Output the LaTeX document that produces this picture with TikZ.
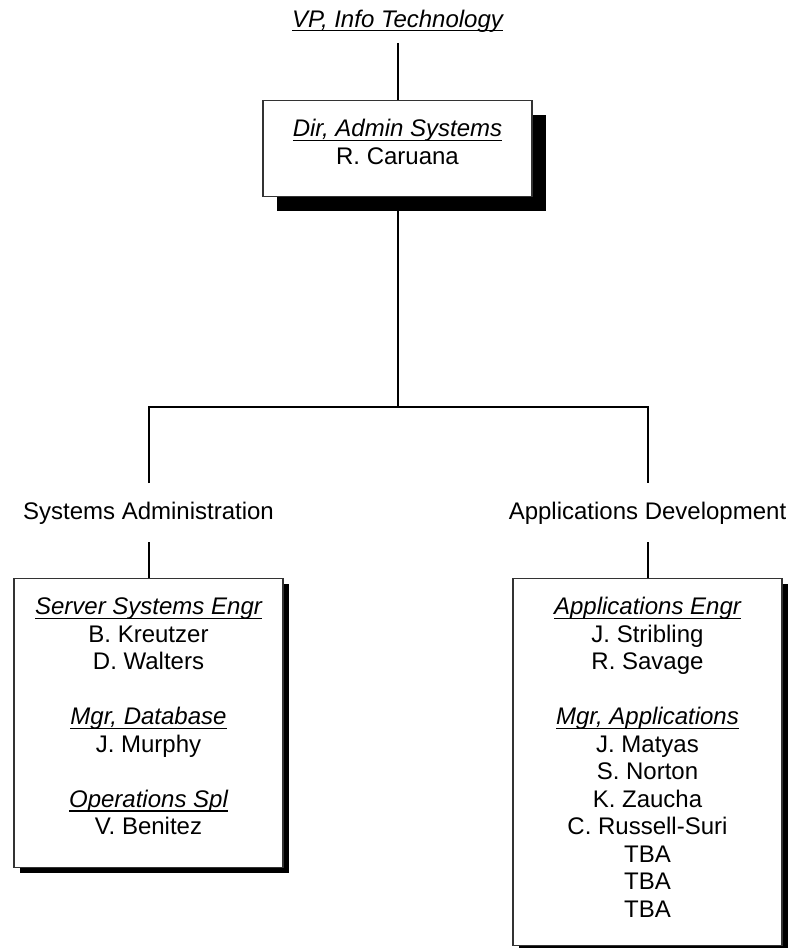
\documentclass[tikz,border=0pt]{standalone}
\usepackage{fontspec}
\setmainfont{Liberation Sans}
\usetikzlibrary{shadows}

\newcommand{\postitle}[1]{\leavevmode{\itshape\setbox0\hbox{#1}\rlap{\rule[-2.2pt]{\wd0}{0.7pt}}\box0}}
\newcommand{\boxtext}[2]{\parbox[c][#1][t]{134.5pt}{\centering\rule{0pt}{18pt}#2}}

\tikzset{
  orgbox/.style={draw=black!80, line width=0.7pt, fill=white, inner sep=0pt, anchor=north},
  bigshadow/.style={drop shadow={shadow xshift=7pt, shadow yshift=-7pt, fill=black, opacity=1}},
  smallshadow/.style={drop shadow={shadow xshift=2.8pt, shadow yshift=-2.8pt, fill=black, opacity=1}},
  unitlabel/.style={inner xsep=0pt, inner ysep=9pt, anchor=base},
  link/.style={line width=1pt}
}

\begin{document}
\begin{tikzpicture}[x=0.5pt,y=-0.5pt,font=\fontsize{12}{13.75}\selectfont]
\useasboundingbox (0,0) rectangle (793,948);

\node[unitlabel, inner ysep=5.2pt] (vp) at (397.5,27) {\postitle{VP, Info Technology}};
\node[orgbox,bigshadow] (dir) at (397.5,100) {\boxtext{48pt}{\postitle{Dir, Admin Systems}\\R. Caruana}};
\draw[link] (vp.south) -- (dir.north);

\node[unitlabel] (sysadm) at (148.5,519) {Systems Administration};
\node[unitlabel] (appdev) at (647.5,519) {Applications Development};
\coordinate (bus) at (397.5,407);
\draw[link] (dir.south) -- (bus);
\draw[link] (sysadm.north) |- (bus) -| (appdev.north);

\node[orgbox,smallshadow] (sysbox) at (148.5,578) {\boxtext{144.5pt}{%
  \postitle{Server Systems Engr}\\B. Kreutzer\\D. Walters\\[13.75pt]
  \postitle{Mgr, Database}\\J. Murphy\\[13.75pt]
  \postitle{Operations Spl}\\V. Benitez}};
\node[orgbox,smallshadow] (appbox) at (647.5,578) {\boxtext{183.5pt}{%
  \postitle{Applications Engr}\\J. Stribling\\R. Savage\\[13.75pt]
  \postitle{Mgr, Applications}\\J. Matyas\\S. Norton\\K. Zaucha\\C. Russell-Suri\\TBA\\TBA\\TBA}};
\draw[link] (sysadm.south) -- (sysbox.north);
\draw[link] (appdev.south) -- (appbox.north);
\end{tikzpicture}
\end{document}
